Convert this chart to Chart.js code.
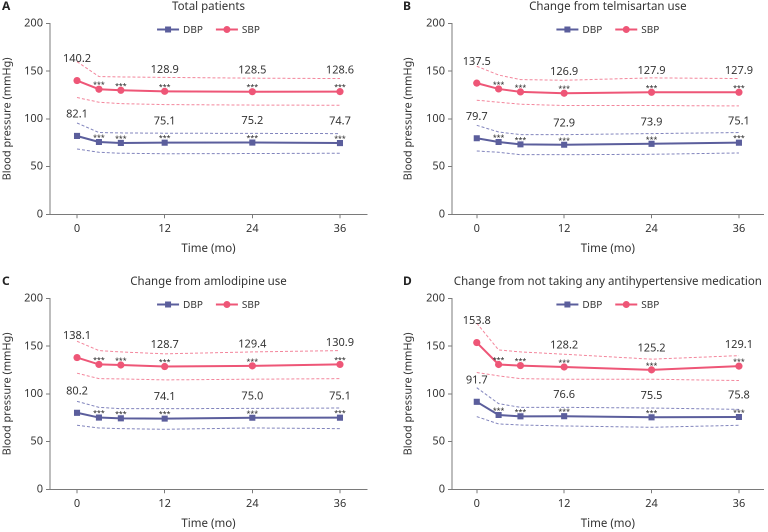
<!DOCTYPE html>
<html><head><meta charset="utf-8">
<script src="https://cdn.jsdelivr.net/npm/chart.js@4.4.1/dist/chart.umd.min.js"></script>
<style>
html,body{margin:0;padding:0;background:#fff;width:768px;height:532px;overflow:hidden;}
.p{position:absolute;}
canvas{display:block;}
</style></head><body>
<div class="p" style="left:0px;top:0px;"><canvas id="cA" width="384" height="257"></canvas></div>
<div class="p" style="left:401px;top:0px;"><canvas id="cB" width="367" height="257"></canvas></div>
<div class="p" style="left:0px;top:275px;"><canvas id="cC" width="384" height="257"></canvas></div>
<div class="p" style="left:401px;top:275px;"><canvas id="cD" width="367" height="257"></canvas></div>
<script>
// ---------- data ----------
const months = [0, 3, 6, 12, 24, 36];
const xTickValues = [0, 12, 24, 36];
const yTickValues = [0, 50, 100, 150, 200];
const valueLabelMonths = [0, 12, 24, 36];
const starMonths = [3, 6, 12, 24, 36];
const starText = '***';
const seriesNames = ['DBP', 'SBP'];
const panelLetters = ['A', 'B', 'C', 'D'];
const panelTitles = ['Total patients', 'Change from telmisartan use', 'Change from amlodipine use', 'Change from not taking any antihypertensive medication'];
const xAxisTitle = 'Time (mo)';
const yAxisTitle = 'Blood pressure (mmHg)';

const A_SBP = [140.2, 131.1, 130.0, 128.9, 128.5, 128.6];
const A_SBP_upper = [160.0, 144.4, 144.0, 143.5, 142.7, 142.3];
const A_SBP_lower = [122.4, 117.5, 116.0, 115.0, 114.5, 114.3];
const A_DBP = [82.1, 75.8, 74.8, 75.1, 75.2, 74.7];
const A_DBP_upper = [95.7, 85.7, 85.3, 85.0, 84.8, 84.6];
const A_DBP_lower = [68.5, 65.0, 64.0, 63.5, 63.7, 64.0];

const B_SBP = [137.5, 131.4, 128.3, 126.9, 127.9, 127.9];
const B_SBP_upper = [155.2, 146.0, 141.2, 140.5, 143.0, 142.3];
const B_SBP_lower = [119.6, 117.5, 115.4, 114.0, 114.0, 113.6];
const B_DBP = [79.7, 75.8, 73.3, 72.9, 73.9, 75.1];
const B_DBP_upper = [93.3, 86.3, 83.5, 83.5, 84.6, 85.7];
const B_DBP_lower = [66.4, 65.0, 62.5, 62.5, 62.9, 64.3];

const C_SBP = [138.1, 130.9, 130.3, 128.7, 129.4, 130.9];
const C_SBP_upper = [155.2, 145.4, 144.0, 142.0, 144.0, 145.4];
const C_SBP_lower = [121.7, 116.0, 115.7, 114.7, 115.4, 116.0];
const C_DBP = [80.2, 75.2, 74.4, 74.1, 75.0, 75.1];
const C_DBP_upper = [92.2, 85.9, 84.5, 84.5, 84.8, 85.2];
const C_DBP_lower = [67.1, 64.3, 63.6, 62.9, 64.3, 63.6];

const D_SBP = [153.8, 130.8, 129.7, 128.2, 125.2, 129.1];
const D_SBP_upper = [174.1, 146.1, 144.0, 141.6, 136.4, 140.1];
const D_SBP_lower = [122.4, 118.9, 116.0, 115.4, 115.4, 114.0];
const D_DBP = [91.7, 77.9, 76.5, 76.6, 75.5, 75.8];
const D_DBP_upper = [106.5, 89.8, 85.9, 85.9, 85.2, 83.8];
const D_DBP_lower = [76.2, 68.5, 67.4, 66.4, 65.0, 67.1];

// ---------- styles ----------
const DBP_COLOR = '#5b5e9c';
const SBP_COLOR = '#ee5677';
const DBP_DASH_COLOR = '#8285bd';
const SBP_DASH_COLOR = '#f3869c';
const AXIS_COLOR = '#7a7a7a';
const TEXT_COLOR = '#333333';
const FONT = '"Noto Sans", "DejaVu Sans", sans-serif';

function pts(arr) { return months.map((m, i) => ({ x: m, y: arr[i] })); }

const overlay = {
  id: 'overlay',
  afterDatasetsDraw(chart, args, opts) {
    const { ctx, scales: { x, y } } = chart;
    const p = opts.panel;
    const cx = x.getPixelForValue(18);
    ctx.save();
    // panel letter
    ctx.fillStyle = '#222';
    ctx.font = 'bold 12px ' + FONT;
    ctx.textAlign = 'left';
    ctx.textBaseline = 'middle';
    ctx.fillText(p.letter, 2, 6.5);
    // title
    ctx.fillStyle = TEXT_COLOR;
    ctx.font = '11.5px ' + FONT;
    ctx.textAlign = 'center';
    ctx.fillText(p.title, cx, 6.5);
    // legend
    ctx.font = '10px ' + FONT;
    const ly = chart.chartArea.top + 6;
    const items = [{ name: seriesNames[0], color: DBP_COLOR, style: 'rect' }, { name: seriesNames[1], color: SBP_COLOR, style: 'circle' }];
    const lineW = 22, gapT = 4, gapI = 13;
    let total = 0;
    items.forEach((it, i) => { it.tw = ctx.measureText(it.name).width; total += lineW + gapT + it.tw + (i ? 0 : gapI); });
    let lx = cx - total / 2;
    items.forEach((it) => {
      ctx.strokeStyle = it.color; ctx.fillStyle = it.color; ctx.lineWidth = 2;
      ctx.beginPath(); ctx.moveTo(lx, ly); ctx.lineTo(lx + lineW, ly); ctx.stroke();
      const mx = lx + lineW / 2;
      ctx.beginPath();
      if (it.style === 'rect') ctx.rect(mx - 3, ly - 3, 6, 6); else ctx.arc(mx, ly, 3.5, 0, Math.PI * 2);
      ctx.fill();
      ctx.fillStyle = TEXT_COLOR; ctx.textAlign = 'left'; ctx.textBaseline = 'middle';
      ctx.fillText(it.name, lx + lineW + gapT, ly + 0.5);
      lx += lineW + gapT + it.tw + gapI;
    });
    // value labels and stars
    [p.dbp, p.sbp].forEach((ser) => {
      ctx.fillStyle = TEXT_COLOR;
      ctx.font = '11px ' + FONT;
      ctx.textAlign = 'center';
      ctx.textBaseline = 'middle';
      valueLabelMonths.forEach((m) => {
        const i = months.indexOf(m);
        ctx.fillText(ser[i].toFixed(1), x.getPixelForValue(m), y.getPixelForValue(ser[i]) - 21.5);
      });
      ctx.font = '7px ' + FONT;
      ctx.fillStyle = '#222';
      ctx.textBaseline = 'alphabetic';
      starMonths.forEach((m) => {
        const i = months.indexOf(m);
        ctx.fillText(starText, x.getPixelForValue(m), y.getPixelForValue(ser[i]) - 2);
      });
    });
    ctx.restore();
  }
};

function makeChart(id, panel, cfg) {
  const dashed = (data, color) => ({ data: pts(data), borderColor: color, borderWidth: 1, borderDash: [3, 2], pointRadius: 0, fill: false, tension: 0 });
  new Chart(document.getElementById(id), {
    type: 'line',
    data: {
      datasets: [
        { label: seriesNames[0], data: pts(panel.dbp), borderColor: DBP_COLOR, backgroundColor: DBP_COLOR, borderWidth: 2, pointStyle: 'rect', pointRadius: 4.3, pointBorderWidth: 0, tension: 0 },
        { label: seriesNames[1], data: pts(panel.sbp), borderColor: SBP_COLOR, backgroundColor: SBP_COLOR, borderWidth: 2, pointStyle: 'circle', pointRadius: 3.6, pointBorderWidth: 0, tension: 0 },
        dashed(panel.dbpU, DBP_DASH_COLOR), dashed(panel.dbpL, DBP_DASH_COLOR),
        dashed(panel.sbpU, SBP_DASH_COLOR), dashed(panel.sbpL, SBP_DASH_COLOR)
      ]
    },
    options: {
      responsive: false, animation: false, devicePixelRatio: 2,
      layout: { padding: { left: 0, top: 23.5, right: cfg.padRight, bottom: 0 } },
      scales: {
        x: {
          type: 'linear', min: cfg.xMin, max: cfg.xMax,
          afterBuildTicks: (s) => { s.ticks = xTickValues.map(v => ({ value: v })); },
          afterFit: (s) => { s.height = 42.7; },
          grid: { drawOnChartArea: false, drawTicks: true, tickLength: 4, color: AXIS_COLOR },
          border: { color: AXIS_COLOR, width: 1 },
          ticks: { font: { family: FONT, size: 11 }, color: TEXT_COLOR, padding: 4, maxRotation: 0, autoSkip: false },
          title: { display: true, text: xAxisTitle, font: { family: FONT, size: 11.5 }, color: TEXT_COLOR, padding: { top: 0, bottom: 1.5 } }
        },
        y: {
          min: 0, max: 200,
          afterBuildTicks: (s) => { s.ticks = yTickValues.map(v => ({ value: v })); },
          afterFit: (s) => { s.width = cfg.yWidth; },
          grid: { drawOnChartArea: false, drawTicks: true, tickLength: 4, color: AXIS_COLOR },
          border: { color: AXIS_COLOR, width: 1 },
          ticks: { font: { family: FONT, size: 11 }, color: TEXT_COLOR, padding: 3 },
          title: { display: true, text: yAxisTitle, font: { family: FONT, size: 11 }, color: TEXT_COLOR, padding: { top: 1, bottom: 0 } }
        }
      },
      plugins: { legend: { display: false }, tooltip: { enabled: false }, title: { display: false }, overlay: { panel } }
    },
    plugins: [overlay]
  });
}

const leftCfg = { xMin: -3.7, xMax: 39.7, padRight: 17, yWidth: 50 };
const rightCfg = { xMin: -3.4, xMax: 39.4, padRight: 1, yWidth: 51 };

makeChart('cA', { letter: panelLetters[0], title: panelTitles[0], sbp: A_SBP, sbpU: A_SBP_upper, sbpL: A_SBP_lower, dbp: A_DBP, dbpU: A_DBP_upper, dbpL: A_DBP_lower }, leftCfg);
makeChart('cB', { letter: panelLetters[1], title: panelTitles[1], sbp: B_SBP, sbpU: B_SBP_upper, sbpL: B_SBP_lower, dbp: B_DBP, dbpU: B_DBP_upper, dbpL: B_DBP_lower }, rightCfg);
makeChart('cC', { letter: panelLetters[2], title: panelTitles[2], sbp: C_SBP, sbpU: C_SBP_upper, sbpL: C_SBP_lower, dbp: C_DBP, dbpU: C_DBP_upper, dbpL: C_DBP_lower }, leftCfg);
makeChart('cD', { letter: panelLetters[3], title: panelTitles[3], sbp: D_SBP, sbpU: D_SBP_upper, sbpL: D_SBP_lower, dbp: D_DBP, dbpU: D_DBP_upper, dbpL: D_DBP_lower }, rightCfg);
</script>
</body></html>
